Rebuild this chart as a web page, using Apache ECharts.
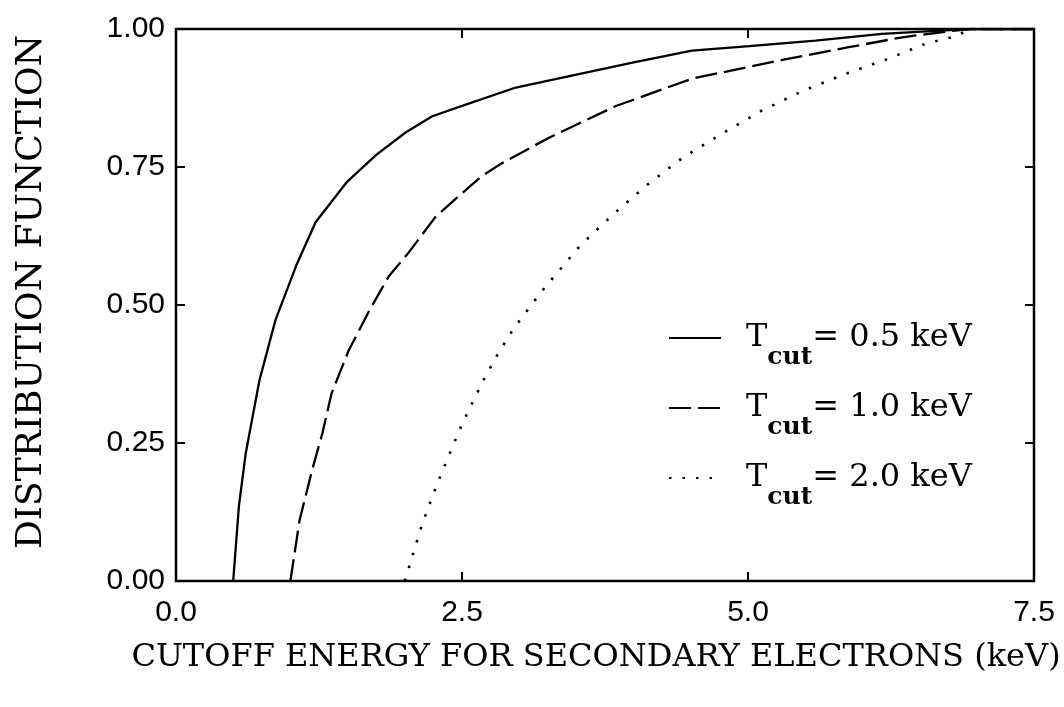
<!DOCTYPE html>
<html>
<head>
<meta charset="utf-8">
<script src="https://cdn.jsdelivr.net/npm/echarts@6/dist/echarts.min.js"></script>
<style>
  html, body { margin: 0; padding: 0; background: #fff; }
  #chart { width: 1064px; height: 707px; }
</style>
</head>
<body>
<div id="chart"></div>
<script>
// Cumulative distribution of secondary-electron energies for three cutoff values.
// Each point is [cutoff energy (keV), distribution function].
const tcut05 = [
  [0.50, 0.000], [0.55, 0.136], [0.61, 0.232], [0.73, 0.364], [0.87, 0.473],
  [1.05, 0.571], [1.22, 0.650], [1.49, 0.722], [1.75, 0.772], [2.01, 0.813],
  [2.24, 0.842], [2.45, 0.857], [2.97, 0.894], [3.99, 0.939], [4.51, 0.961],
  [5.01, 0.969], [5.59, 0.979], [6.17, 0.991], [6.76, 0.998], [6.95, 1.000],
  [7.50, 1.000]
];
const tcut10 = [
  [1.00, 0.000], [1.08, 0.110], [1.19, 0.201], [1.28, 0.268], [1.36, 0.340],
  [1.51, 0.418], [1.69, 0.490], [1.86, 0.552], [2.03, 0.594], [2.27, 0.660],
  [2.47, 0.697], [2.67, 0.733], [2.85, 0.757], [3.26, 0.803], [3.84, 0.860],
  [4.51, 0.910], [5.30, 0.944], [5.88, 0.967], [6.35, 0.985], [6.76, 0.996],
  [6.95, 1.000], [7.50, 1.000]
];
const tcut20 = [
  [2.00, 0.000], [2.15, 0.102], [2.29, 0.180], [2.50, 0.284], [2.68, 0.361],
  [2.81, 0.410], [2.95, 0.457], [3.19, 0.523], [3.53, 0.607], [3.82, 0.664],
  [4.12, 0.718], [4.43, 0.767], [4.77, 0.810], [5.11, 0.851], [5.47, 0.887],
  [5.83, 0.917], [6.20, 0.944], [6.56, 0.974], [6.80, 0.986], [6.95, 1.000],
  [7.50, 1.000]
];

// Cutoff values shown in the legend (keV)
const cutoffLabels = ['0.5', '1.0', '2.0'];

// Axis ranges and tick steps
const xRange = [0, 7.5];
const xStep = 2.5;
const yRange = [0, 1];
const yStep = 0.25;

const seriesData = [tcut05, tcut10, tcut20];
const dashStyles = ['solid', [22, 7], [2.5, 11]];
const seriesNames = cutoffLabels.map(v => 'Tcut = ' + v + ' keV');

const tickFont = 'Liberation Sans, Arial, sans-serif';
const titleFont = 'DejaVu Serif, serif';

const chart = echarts.init(document.getElementById('chart'), null, { renderer: 'canvas' });

function valueAxis(range, step, extra) {
  return Object.assign({
    type: 'value',
    min: range[0],
    max: range[1],
    interval: step,
    axisLine: { show: false, onZero: false },
    axisTick: { show: true, inside: true, length: 9, lineStyle: { color: '#000', width: 2 } },
    splitLine: { show: false }
  }, extra);
}

const option = {
  animation: false,
  backgroundColor: '#fff',
  grid: {
    left: 176, right: 30, top: 29, bottom: 126,
    outerBoundsMode: 'none',
    containLabel: false,
    show: true, borderColor: '#000', borderWidth: 2.5, backgroundColor: 'transparent'
  },
  xAxis: [
    valueAxis(xRange, xStep, {
      position: 'bottom',
      name: 'CUTOFF ENERGY FOR SECONDARY ELECTRONS (keV)',
      nameLocation: 'middle',
      nameGap: 61,
      nameTextStyle: {
        fontFamily: titleFont, fontSize: 32, color: '#000', verticalAlign: 'top',
        padding: [0, 18, 0, 0]
      },
      axisLabel: {
        margin: 17, color: '#000', fontFamily: tickFont, fontSize: 30,
        formatter: v => v.toFixed(1)
      }
    }),
    valueAxis(xRange, xStep, { position: 'top', axisLabel: { show: false } })
  ],
  yAxis: [
    valueAxis(yRange, yStep, {
      position: 'left',
      name: 'DISTRIBUTION FUNCTION',
      nameLocation: 'middle',
      nameGap: 126,
      nameTextStyle: {
        fontFamily: titleFont, fontSize: 36, color: '#000',
        padding: [0, 0, 0, 26]
      },
      axisLabel: {
        margin: 11, color: '#000', fontFamily: tickFont, fontSize: 30,
        formatter: v => v.toFixed(2)
      }
    }),
    valueAxis(yRange, yStep, { position: 'right', axisLabel: { show: false } })
  ],
  legend: {
    orient: 'vertical',
    left: 668,
    top: 322,
    padding: 0,
    itemGap: 22,
    itemWidth: 52,
    itemHeight: 14,
    data: seriesNames,
    itemStyle: { opacity: 0 },
    formatter: name => {
      const v = name.split('= ')[1];
      return '{p| }{t|T}{s|cut}{e|= ' + v + '}';
    },
    textStyle: {
      color: '#000',
      rich: {
        p: { width: 20, fontSize: 2, lineHeight: 64 },
        t: { fontFamily: titleFont, fontSize: 32, color: '#000', lineHeight: 32, verticalAlign: 'middle' },
        s: { fontFamily: titleFont, fontSize: 25, fontWeight: 'bold', color: '#000', lineHeight: 25, verticalAlign: 'bottom' },
        e: { fontFamily: titleFont, fontSize: 32, color: '#000', lineHeight: 32, verticalAlign: 'middle' }
      }
    }
  },
  series: seriesData.map((d, i) => ({
    name: seriesNames[i],
    type: 'line',
    data: d,
    symbol: 'none',
    smooth: false,
    clip: true,
    lineStyle: { color: '#000', width: i === 2 ? 2.6 : 2.3, type: dashStyles[i], cap: 'butt' },
    itemStyle: { color: '#000' },
    emphasis: { disabled: true }
  }))
};

chart.setOption(option);
</script>
</body>
</html>
